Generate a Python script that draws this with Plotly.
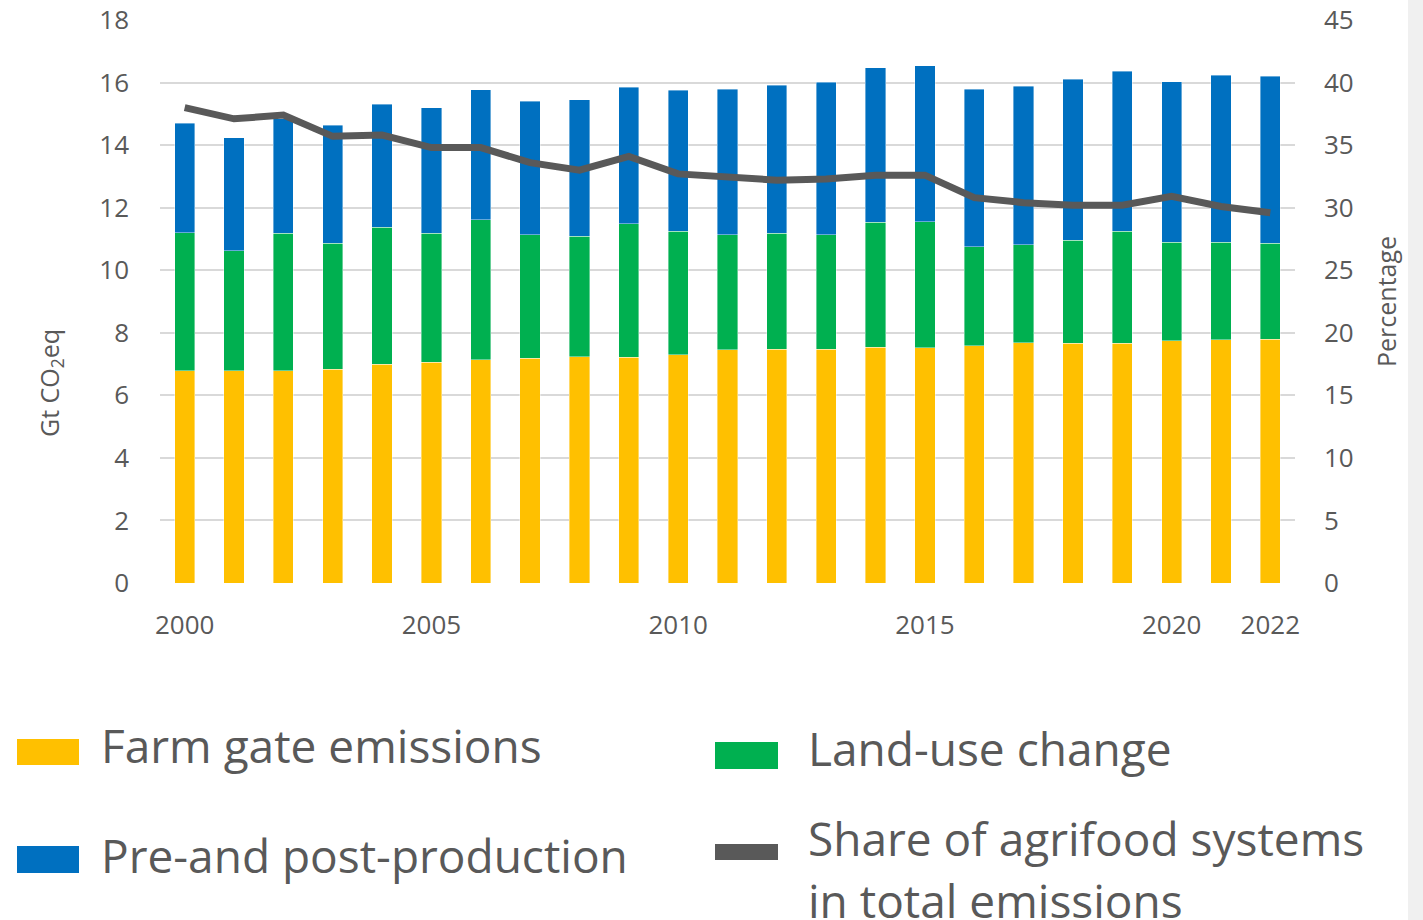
import plotly.graph_objects as go

years = list(range(2000, 2023))
farm_gate = [6.79, 6.79, 6.79, 6.83, 6.99, 7.06, 7.13, 7.19, 7.23, 7.22, 7.30, 7.45,
             7.48, 7.47, 7.54, 7.52, 7.58, 7.68, 7.66, 7.67, 7.75, 7.78, 7.79]
land_use = [4.41, 3.83, 4.39, 4.03, 4.39, 4.12, 4.49, 3.94, 3.86, 4.26, 3.94, 3.68,
            3.70, 3.66, 3.99, 4.03, 3.17, 3.14, 3.30, 3.57, 3.15, 3.11, 3.08]
pre_post = [3.50, 3.61, 3.67, 3.77, 3.93, 4.01, 4.15, 4.27, 4.36, 4.37, 4.51, 4.65,
            4.73, 4.88, 4.94, 4.98, 5.04, 5.06, 5.14, 5.12, 5.13, 5.35, 5.33]
share_pct = [38.0, 37.1, 37.4, 35.7, 35.8, 34.8, 34.8, 33.6, 33.0, 34.1, 32.7, 32.4,
             32.2, 32.3, 32.6, 32.6, 30.8, 30.4, 30.2, 30.2, 30.9, 30.1, 29.6]
tick_years = [2000, 2005, 2010, 2015, 2020, 2022]
legend_labels = ["Farm gate emissions", "Land-use change",
                 "Pre-and post-production", "Share of agrifood systems<br>in total emissions"]

YELLOW, GREEN, BLUE, GREY = "#FFC000", "#00B050", "#0070C0", "#595959"
TXT = "#595959"
FONT = "Open Sans"

W, H = 1423, 920
L, R, T, B = 160, 128, 20, 337


def px(x):
    return (x - L) / (W - L - R)


def py(y):
    return (H - B - y) / (H - T - B)


fig = go.Figure()
for vals, col, name in [(farm_gate, YELLOW, legend_labels[0]),
                        (land_use, GREEN, legend_labels[1]),
                        (pre_post, BLUE, legend_labels[2])]:
    fig.add_trace(go.Bar(x=years, y=vals, name=name, marker_color=col,
                         marker_line=dict(width=0.8, color="rgba(255,255,255,0.5)"),
                         width=0.41, showlegend=False))

fig.add_trace(go.Scatter(x=years, y=share_pct, yaxis="y2", mode="lines",
                         line=dict(color=GREY, width=7), name=legend_labels[3],
                         showlegend=False))

# legend drawn by hand to match the large two-column layout
shapes = [
    dict(type="rect", xref="paper", yref="paper", x0=px(17), x1=px(79), y0=py(765), y1=py(739),
         fillcolor=YELLOW, line_width=0),
    dict(type="rect", xref="paper", yref="paper", x0=px(715), x1=px(778), y0=py(769), y1=py(742),
         fillcolor=GREEN, line_width=0),
    dict(type="rect", xref="paper", yref="paper", x0=px(17), x1=px(79), y0=py(873), y1=py(846),
         fillcolor=BLUE, line_width=0),
    dict(type="rect", xref="paper", yref="paper", x0=px(715), x1=px(778), y0=py(860), y1=py(844),
         fillcolor=GREY, line_width=0),
    dict(type="rect", xref="paper", yref="paper", x0=px(1408), x1=px(1423), y0=py(920), y1=py(0),
         fillcolor="#f0f0f0", line_width=0, layer="below"),
]
annotations = [
    dict(text=legend_labels[0], x=px(99), y=py(745), xanchor="left", yanchor="middle"),
    dict(text=legend_labels[1], x=px(806), y=py(748), xanchor="left", yanchor="middle"),
    dict(text=legend_labels[2], x=px(99), y=py(855), xanchor="left", yanchor="middle"),
    dict(text=legend_labels[3], x=px(806), y=py(838), xanchor="left", yanchor="middle", align="left"),
]
for a in annotations:
    a.update(xref="paper", yref="paper", showarrow=False, font=dict(family=FONT, size=46, color=TXT))
# second line of the last label is split so the first line sits where the reference has it
annotations[3]["text"] = "Share of agrifood systems"
annotations.append(dict(text="in total emissions", x=px(806), y=py(900), xref="paper", yref="paper",
                        xanchor="left", yanchor="middle", showarrow=False,
                        font=dict(family=FONT, size=46, color=TXT)))
annotations.append(dict(text="Gt CO<sub>2</sub>eq", x=px(50), y=py(383), xref="paper", yref="paper",
                        xanchor="center", yanchor="middle", showarrow=False, textangle=-90,
                        font=dict(family=FONT, size=25, color=TXT)))
annotations.append(dict(text="Percentage", x=px(1386), y=py(302), xref="paper", yref="paper",
                        xanchor="center", yanchor="middle", showarrow=False, textangle=-90,
                        font=dict(family=FONT, size=25, color=TXT)))

fig.update_layout(
    width=W, height=H, margin=dict(l=L, r=R, t=T, b=B, autoexpand=False),
    barmode="stack", plot_bgcolor="white", paper_bgcolor="white",
    font=dict(family=FONT, size=26, color=TXT),
    xaxis=dict(range=[1999.5, 2022.5], tickvals=tick_years, showgrid=False, zeroline=False,
               showline=False, ticklabelstandoff=24, tickfont=dict(size=26, color=TXT)),
    yaxis=dict(range=[0, 18], dtick=2, showgrid=True, gridcolor="#d9d9d9", gridwidth=1.5,
               zeroline=False, ticklabelstandoff=30, tickfont=dict(size=26, color=TXT)),
    yaxis2=dict(range=[0, 45], dtick=5, overlaying="y", side="right", showgrid=False,
                zeroline=False, ticklabelstandoff=28, tickfont=dict(size=26, color=TXT)),
    shapes=shapes, annotations=annotations,
)

# drop the browser's default page margin so the figure sits at the window's corner
fig.write_html("out.html", config={"displayModeBar": False},
               post_script="document.body.style.margin='0px'; document.body.style.overflow='hidden';")
